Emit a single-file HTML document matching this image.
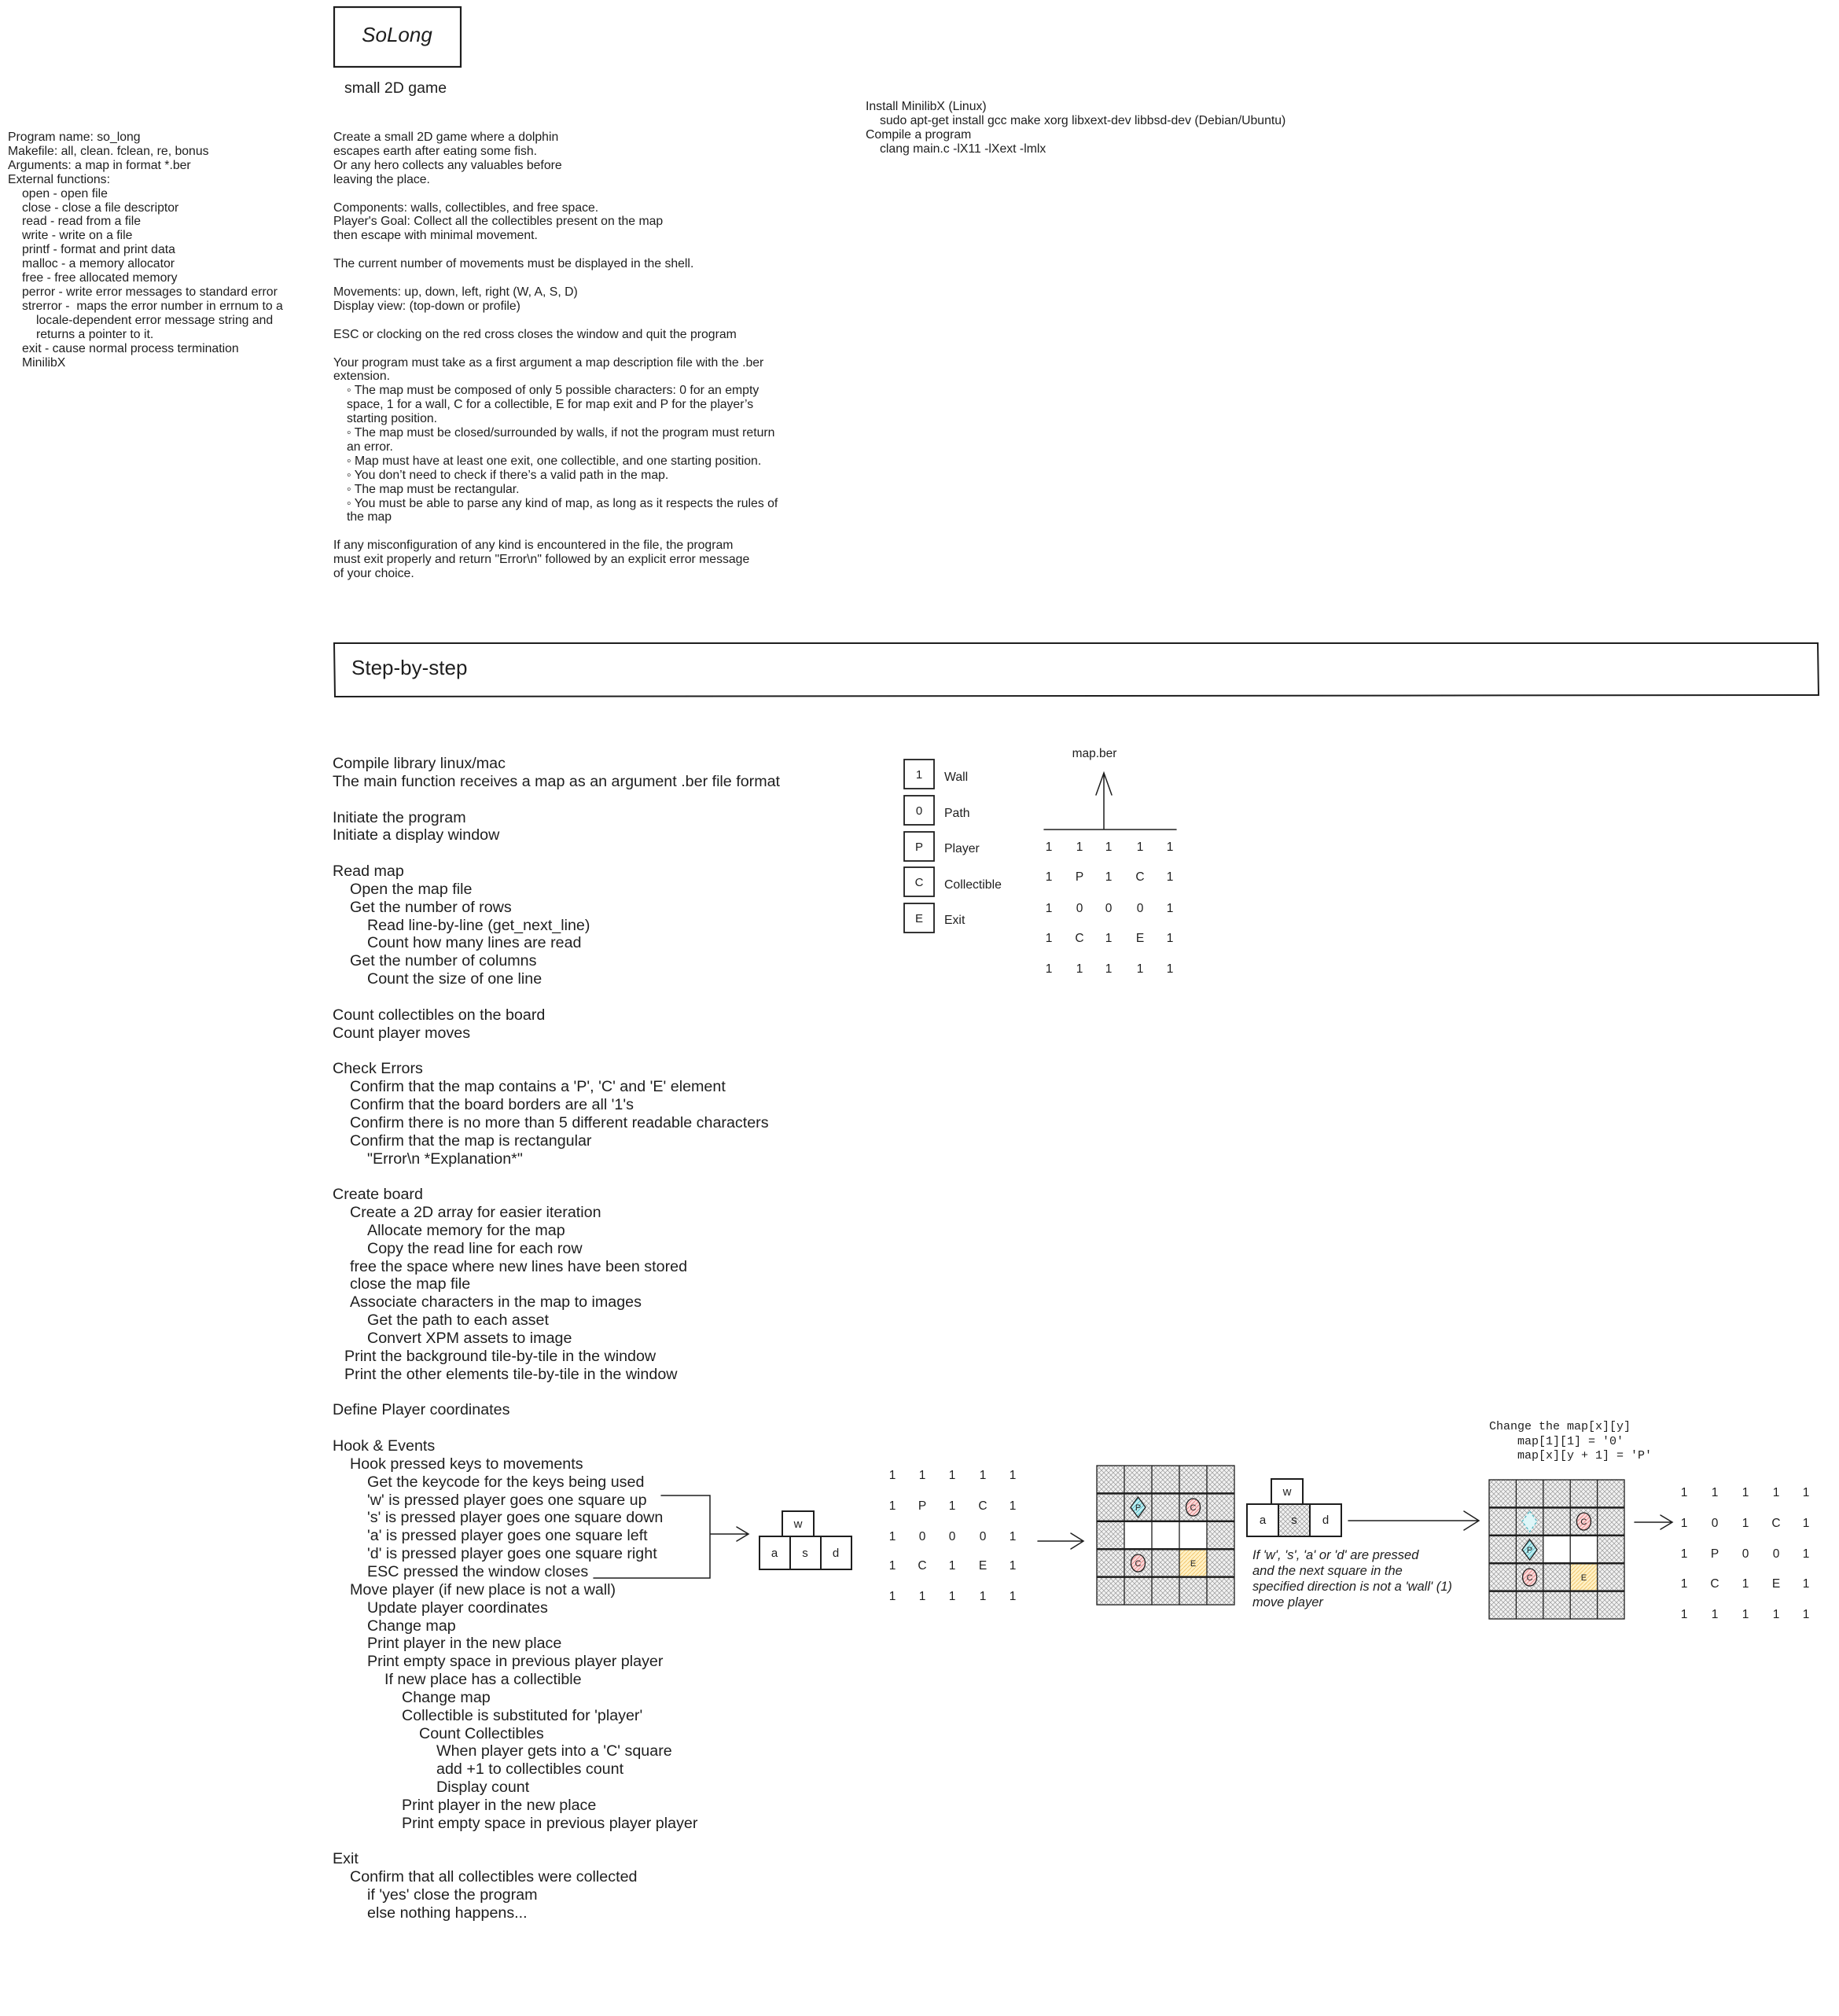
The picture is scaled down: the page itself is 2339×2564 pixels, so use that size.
<!DOCTYPE html>
<html><head><meta charset="utf-8"><style>
body{margin:0;width:2339px;height:2564px;background:#fff;position:relative;overflow:hidden;font-family:"Liberation Sans",Arial,sans-serif;color:#1e1e1e}
.a{position:absolute;white-space:pre}
.s{font-size:15.8px;line-height:17.9px}
.st{font-size:19.7px;line-height:22.84px}
.l1{padding-left:22px}.l2{padding-left:44px}.l3{padding-left:66px}.l4{padding-left:88px}.l5{padding-left:110px}.l6{padding-left:132px}.lh{padding-left:15px}
.i1{padding-left:18px}.i2{padding-left:36px}.b1{padding-left:17px}
svg{position:absolute;left:0;top:0}
</style></head><body>
<svg width="2339" height="2564" viewBox="0 0 2339 2564">
<defs>
<pattern id="h" width="6" height="6" patternUnits="userSpaceOnUse">
<rect width="6" height="6" fill="#f2f2f2"/>
<path d="M0 0L6 6M6 0L0 6" stroke="#9a9a9a" stroke-width="0.7"/>
</pattern>
<pattern id="hc" width="5" height="5" patternUnits="userSpaceOnUse">
<rect width="5" height="5" fill="#bfeef2"/><path d="M0 5L5 0" stroke="#4fb8c4" stroke-width="0.8"/></pattern>
<pattern id="hr" width="5" height="5" patternUnits="userSpaceOnUse">
<rect width="5" height="5" fill="#fbd9d9"/><path d="M0 5L5 0" stroke="#e08080" stroke-width="0.8"/></pattern>
<pattern id="hy" width="5" height="5" patternUnits="userSpaceOnUse">
<rect width="5" height="5" fill="#fff1c6"/><path d="M0 5L5 0" stroke="#f0c060" stroke-width="0.8"/></pattern>
</defs>
<g fill="none" stroke="#1e1e1e" stroke-linecap="round">
<rect x="425" y="9" width="161" height="76" stroke-width="2.2"/>
<path d="M425 818 L2312 818 L2313 884 L426 886 Z" stroke-width="2"/>
<rect x="1150" y="966" width="38" height="37" stroke-width="1.8"/>
<rect x="1150" y="1012" width="38" height="37" stroke-width="1.8"/>
<rect x="1150" y="1058" width="38" height="37" stroke-width="1.8"/>
<rect x="1150" y="1103" width="38" height="37" stroke-width="1.8"/>
<rect x="1150" y="1149" width="38" height="37" stroke-width="1.8"/>
<path d="M1328 1055 L1496 1055 M1404 1055 L1404 983 M1394 1011 L1404 983 L1414 1011" stroke-width="1.5"/>
<path d="M841 1902 L903 1902 L903 2007 L755 2007 M903 1951 L952 1951 M937 1942 L952 1951 L937 1960" stroke-width="1.5"/>
<path d="M1320 1960 L1378 1960 M1362 1950 L1378 1960 L1362 1970" stroke-width="1.5"/>
<path d="M1715 1934 L1881 1934 M1862 1922 L1881 1934 L1862 1946" stroke-width="1.5"/>
<path d="M2079 1936 L2127 1936 M2112 1927 L2127 1936 L2112 1945" stroke-width="1.5"/>
</g>
<g fill="#fff" stroke="#1e1e1e" stroke-width="2">
<rect x="995" y="1922" width="40" height="32"/>
<rect x="966" y="1954" width="39" height="42"/>
<rect x="1005" y="1954" width="39" height="42"/>
<rect x="1044" y="1954" width="39" height="42"/>
<rect x="1617" y="1881" width="40" height="32"/>
<rect x="1586" y="1913" width="40" height="41"/>
<rect x="1626" y="1913" width="40" height="41" fill="url(#h)"/>
<rect x="1666" y="1913" width="40" height="41"/>
</g>
<g transform="translate(1395,1864)">
<rect width="175" height="177" fill="url(#h)"/>
<rect x="35" y="70.8" width="105" height="35.4" fill="#fff"/>
<rect x="105" y="106.2" width="35" height="35.4" fill="url(#hy)"/>
<g stroke="#1e1e1e" stroke-width="1.3" fill="none">
<path d="M35 0V177M70 0V177M105 0V177M140 0V177"/>
<path d="M0 35.4H175M0 70.8H175M0 106.2H175M0 141.6H175" stroke-width="2.5"/>
<rect width="175" height="177"/>
</g>
<path d="M52.5 40 L62 53 L52.5 66 L43 53 Z" fill="url(#hc)" stroke="#1e1e1e" stroke-width="1.3"/>
<ellipse cx="122.5" cy="53" rx="9" ry="11" fill="url(#hr)" stroke="#1e1e1e" stroke-width="1.3"/>
<ellipse cx="52.5" cy="124" rx="9" ry="11" fill="url(#hr)" stroke="#1e1e1e" stroke-width="1.3"/>
<g font-family="Liberation Sans" font-size="11" text-anchor="middle" fill="#1e1e1e"><text x="52.5" y="57">P</text><text x="122.5" y="57">C</text><text x="52.5" y="128">C</text><text x="122.5" y="128">E</text></g>
</g>
<g transform="translate(1894,1882)">
<rect width="172" height="177" fill="url(#h)"/>
<rect x="68.8" y="70.8" width="68.8" height="35.4" fill="#fff"/>
<rect x="103.2" y="106.2" width="34.4" height="35.4" fill="url(#hy)"/>
<g stroke="#1e1e1e" stroke-width="1.3" fill="none">
<path d="M34.4 0V177M68.8 0V177M103.2 0V177M137.6 0V177"/>
<path d="M0 35.4H172M0 70.8H172M0 106.2H172M0 141.6H172" stroke-width="2.5"/>
<rect width="172" height="177"/>
</g>
<path d="M51.6 40 L61 53 L51.6 66 L42 53 Z" fill="#dff6f8" stroke="#4fb8c4" stroke-width="1.3" stroke-dasharray="3 3"/>
<path d="M51.6 76 L61 89 L51.6 102 L42 89 Z" fill="url(#hc)" stroke="#1e1e1e" stroke-width="1.3"/>
<ellipse cx="120.4" cy="53" rx="9" ry="11" fill="url(#hr)" stroke="#1e1e1e" stroke-width="1.3"/>
<ellipse cx="51.6" cy="124" rx="9" ry="11" fill="url(#hr)" stroke="#1e1e1e" stroke-width="1.3"/>
<g font-family="Liberation Sans" font-size="11" text-anchor="middle" fill="#1e1e1e"><text x="51.6" y="93">P</text><text x="120.4" y="57">C</text><text x="51.6" y="128">C</text><text x="120.4" y="128">E</text></g>
</g>
<g font-family="Liberation Sans" font-size="15" fill="#1e1e1e" text-anchor="middle">
<text x="1169" y="990">1</text><text x="1169" y="1036">0</text><text x="1169" y="1082">P</text><text x="1169" y="1127">C</text><text x="1169" y="1173">E</text>
<text x="1015" y="1943">w</text><text x="985" y="1980">a</text><text x="1024" y="1980">s</text><text x="1063" y="1980">d</text>
<text x="1637" y="1902">w</text><text x="1606" y="1938">a</text><text x="1646" y="1938">s</text><text x="1686" y="1938">d</text>
</g>
<g font-family="Liberation Sans" font-size="15.5" fill="#1e1e1e" text-anchor="middle">
<g transform="translate(0,5)">
<text y="1077"><tspan x="1334">1</tspan><tspan x="1373">1</tspan><tspan x="1410">1</tspan><tspan x="1450">1</tspan><tspan x="1488">1</tspan></text>
<text y="1115"><tspan x="1334">1</tspan><tspan x="1373">P</tspan><tspan x="1410">1</tspan><tspan x="1450">C</tspan><tspan x="1488">1</tspan></text>
<text y="1155"><tspan x="1334">1</tspan><tspan x="1373">0</tspan><tspan x="1410">0</tspan><tspan x="1450">0</tspan><tspan x="1488">1</tspan></text>
<text y="1193"><tspan x="1334">1</tspan><tspan x="1373">C</tspan><tspan x="1410">1</tspan><tspan x="1450">E</tspan><tspan x="1488">1</tspan></text>
<text y="1232"><tspan x="1334">1</tspan><tspan x="1373">1</tspan><tspan x="1410">1</tspan><tspan x="1450">1</tspan><tspan x="1488">1</tspan></text>
<text y="1876"><tspan x="1135">1</tspan><tspan x="1173">1</tspan><tspan x="1211">1</tspan><tspan x="1250">1</tspan><tspan x="1288">1</tspan></text>
<text y="1915"><tspan x="1135">1</tspan><tspan x="1173">P</tspan><tspan x="1211">1</tspan><tspan x="1250">C</tspan><tspan x="1288">1</tspan></text>
<text y="1954"><tspan x="1135">1</tspan><tspan x="1173">0</tspan><tspan x="1211">0</tspan><tspan x="1250">0</tspan><tspan x="1288">1</tspan></text>
<text y="1991"><tspan x="1135">1</tspan><tspan x="1173">C</tspan><tspan x="1211">1</tspan><tspan x="1250">E</tspan><tspan x="1288">1</tspan></text>
<text y="2030"><tspan x="1135">1</tspan><tspan x="1173">1</tspan><tspan x="1211">1</tspan><tspan x="1250">1</tspan><tspan x="1288">1</tspan></text>
<text y="1898"><tspan x="2142">1</tspan><tspan x="2181">1</tspan><tspan x="2220">1</tspan><tspan x="2259">1</tspan><tspan x="2297">1</tspan></text>
<text y="1937"><tspan x="2142">1</tspan><tspan x="2181">0</tspan><tspan x="2220">1</tspan><tspan x="2259">C</tspan><tspan x="2297">1</tspan></text>
<text y="1976"><tspan x="2142">1</tspan><tspan x="2181">P</tspan><tspan x="2220">0</tspan><tspan x="2259">0</tspan><tspan x="2297">1</tspan></text>
<text y="2014"><tspan x="2142">1</tspan><tspan x="2181">C</tspan><tspan x="2220">1</tspan><tspan x="2259">E</tspan><tspan x="2297">1</tspan></text>
<text y="2053"><tspan x="2142">1</tspan><tspan x="2181">1</tspan><tspan x="2220">1</tspan><tspan x="2259">1</tspan><tspan x="2297">1</tspan></text>
</g>
<text x="1392" y="963">map.ber</text>
</g>
</svg>

<div class="a" style="left:424px;top:29px;width:162px;text-align:center;font-size:26px;font-style:italic">SoLong</div>
<div class="a" style="left:438px;top:101px;font-size:19.5px">small 2D game</div>

<div class="a s" style="left:10px;top:166px">Program name: so_long
Makefile: all, clean. fclean, re, bonus
Arguments: a map in format *.ber
External functions:
<span class="i1">open - open file</span>
<span class="i1">close - close a file descriptor</span>
<span class="i1">read - read from a file</span>
<span class="i1">write - write on a file</span>
<span class="i1">printf - format and print data</span>
<span class="i1">malloc - a memory allocator</span>
<span class="i1">free - free allocated memory</span>
<span class="i1">perror - write error messages to standard error</span>
<span class="i1">strerror -  maps the error number in errnum to a</span>
<span class="i2">locale-dependent error message string and</span>
<span class="i2">returns a pointer to it.</span>
<span class="i1">exit - cause normal process termination</span>
<span class="i1">MinilibX</span></div>

<div class="a s" style="left:424px;top:166px">Create a small 2D game where a dolphin
escapes earth after eating some fish.
Or any hero collects any valuables before
leaving the place.

Components: walls, collectibles, and free space.
Player's Goal: Collect all the collectibles present on the map
then escape with minimal movement.

The current number of movements must be displayed in the shell.

Movements: up, down, left, right (W, A, S, D)
Display view: (top-down or profile)

ESC or clocking on the red cross closes the window and quit the program

Your program must take as a first argument a map description file with the .ber
extension.
<span class="b1">◦ The map must be composed of only 5 possible characters: 0 for an empty</span>
<span class="b1">space, 1 for a wall, C for a collectible, E for map exit and P for the player’s</span>
<span class="b1">starting position.</span>
<span class="b1">◦ The map must be closed/surrounded by walls, if not the program must return</span>
<span class="b1">an error.</span>
<span class="b1">◦ Map must have at least one exit, one collectible, and one starting position.</span>
<span class="b1">◦ You don’t need to check if there’s a valid path in the map.</span>
<span class="b1">◦ The map must be rectangular.</span>
<span class="b1">◦ You must be able to parse any kind of map, as long as it respects the rules of</span>
<span class="b1">the map</span>

If any misconfiguration of any kind is encountered in the file, the program
must exit properly and return "Error\n" followed by an explicit error message
of your choice.</div>

<div class="a s" style="left:1101px;top:127px">Install MinilibX (Linux)
<span class="i1">sudo apt-get install gcc make xorg libxext-dev libbsd-dev (Debian/Ubuntu)</span>
Compile a program
<span class="i1">clang main.c -lX11 -lXext -lmlx</span></div>

<div class="a" style="left:447px;top:834px;font-size:26px">Step-by-step</div>

<div class="a st" style="left:423px;top:960px">Compile library linux/mac
The main function receives a map as an argument .ber file format

Initiate the program
Initiate a display window

Read map
<span class="l1">Open the map file</span>
<span class="l1">Get the number of rows</span>
<span class="l2">Read line-by-line (get_next_line)</span>
<span class="l2">Count how many lines are read</span>
<span class="l1">Get the number of columns</span>
<span class="l2">Count the size of one line</span>

Count collectibles on the board
Count player moves

Check Errors
<span class="l1">Confirm that the map contains a 'P', 'C' and 'E' element</span>
<span class="l1">Confirm that the board borders are all '1's</span>
<span class="l1">Confirm there is no more than 5 different readable characters</span>
<span class="l1">Confirm that the map is rectangular</span>
<span class="l2">"Error\n *Explanation*"</span>

Create board
<span class="l1">Create a 2D array for easier iteration</span>
<span class="l2">Allocate memory for the map</span>
<span class="l2">Copy the read line for each row</span>
<span class="l1">free the space where new lines have been stored</span>
<span class="l1">close the map file</span>
<span class="l1">Associate characters in the map to images</span>
<span class="l2">Get the path to each asset</span>
<span class="l2">Convert XPM assets to image</span>
<span class="lh">Print the background tile-by-tile in the window</span>
<span class="lh">Print the other elements tile-by-tile in the window</span>

Define Player coordinates

Hook &amp; Events
<span class="l1">Hook pressed keys to movements</span>
<span class="l2">Get the keycode for the keys being used</span>
<span class="l2">'w' is pressed player goes one square up</span>
<span class="l2">'s' is pressed player goes one square down</span>
<span class="l2">'a' is pressed player goes one square left</span>
<span class="l2">'d' is pressed player goes one square right</span>
<span class="l2">ESC pressed the window closes</span>
<span class="l1">Move player (if new place is not a wall)</span>
<span class="l2">Update player coordinates</span>
<span class="l2">Change map</span>
<span class="l2">Print player in the new place</span>
<span class="l2">Print empty space in previous player player</span>
<span class="l3">If new place has a collectible</span>
<span class="l4">Change map</span>
<span class="l4">Collectible is substituted for 'player'</span>
<span class="l5">Count Collectibles</span>
<span class="l6">When player gets into a 'C' square</span>
<span class="l6">add +1 to collectibles count</span>
<span class="l6">Display count</span>
<span class="l4">Print player in the new place</span>
<span class="l4">Print empty space in previous player player</span>

Exit
<span class="l1">Confirm that all collectibles were collected</span>
<span class="l2">if 'yes' close the program</span>
<span class="l2">else nothing happens...</span></div>

<div class="a" style="left:1201px;top:966px;font-size:15.8px;line-height:45.6px">Wall
Path
Player
Collectible
Exit</div>

<div class="a" style="left:1593px;top:1968px;font-size:16.5px;line-height:20px;font-style:italic">If 'w', 's', 'a' or 'd' are pressed
and the next square in the
specified direction is not a 'wall' (1)
move player</div>

<div class="a" style="left:1894px;top:1806px;font-family:'Liberation Mono',monospace;font-size:15px;line-height:18.5px">Change the map[x][y]
    map[1][1] = '0'
    map[x][y + 1] = 'P'</div>
</body></html>
